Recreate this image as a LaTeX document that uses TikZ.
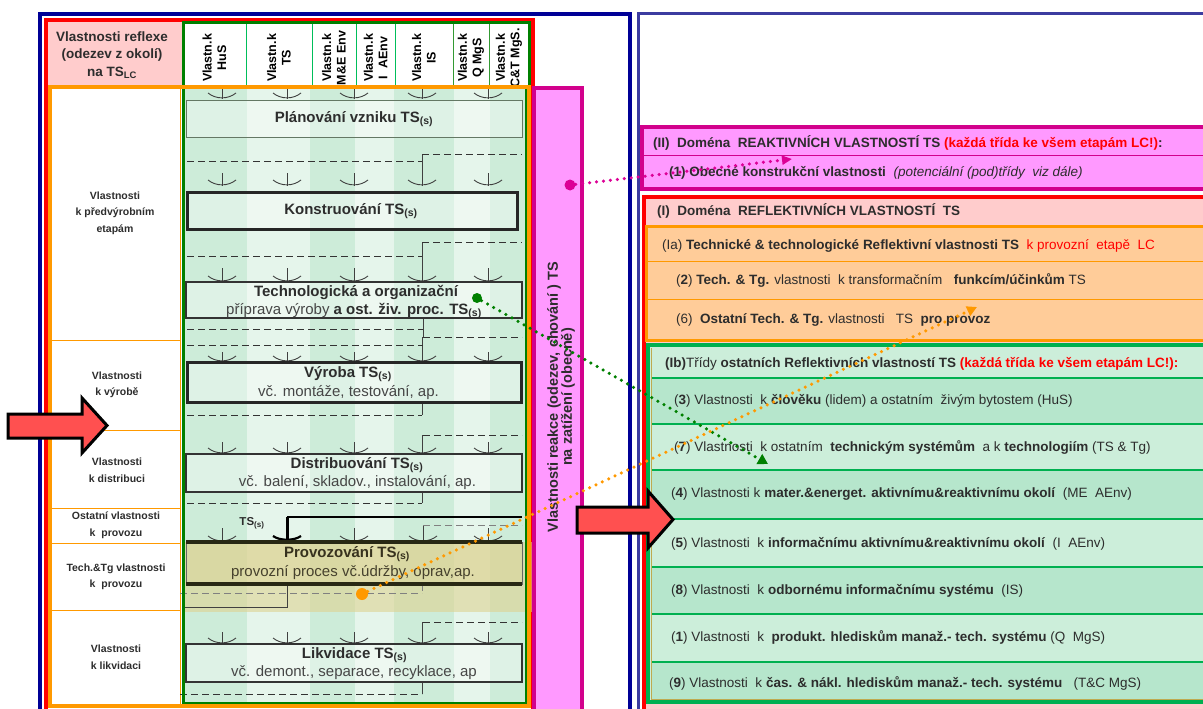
\documentclass[tikz,border=0pt]{standalone}
\usepackage{fontspec}
\setmainfont{Liberation Sans}
\usetikzlibrary{arrows.meta}
\definecolor{navyA}{RGB}{0,0,150}
\definecolor{blueB}{RGB}{60,60,160}
\definecolor{redF}{RGB}{255,0,0}
\definecolor{orangeF}{RGB}{255,153,0}
\definecolor{gdark}{RGB}{0,128,0}
\definecolor{gline}{RGB}{0,190,90}
\definecolor{stripeD}{RGB}{205,236,217}
\definecolor{stripeL}{RGB}{229,245,235}
\definecolor{tanF}{RGB}{222,210,145}
\definecolor{magB}{RGB}{210,0,140}
\definecolor{magF}{RGB}{255,153,255}
\definecolor{pinkF}{RGB}{255,204,204}
\definecolor{peachF}{RGB}{255,204,153}
\definecolor{grnP}{RGB}{0,176,80}
\definecolor{grnL}{RGB}{204,238,218}
\definecolor{grnD}{RGB}{182,230,204}
\definecolor{redArrow}{RGB}{255,80,80}
\definecolor{textG}{RGB}{45,45,45}
\definecolor{textS}{RGB}{70,70,70}
\definecolor{dotM}{RGB}{220,0,150}
\definecolor{dotO}{RGB}{255,153,0}
\definecolor{oliveL}{RGB}{190,170,80}
\definecolor{provT}{RGB}{55,50,30}
\definecolor{provS}{RGB}{70,65,45}
\definecolor{provL}{RGB}{40,40,20}
\definecolor{planB}{RGB}{100,120,100}
\newcommand\fs[2]{\fontsize{#1}{#2}\selectfont}
\newcommand\mytick[3]{\draw[tickst] (#1-14,#2-6) .. controls (#1-6,#2+0.5) and (#1+6,#2+0.5) .. (#1+14,#2-6); \draw[tickst] (#1,#3) -- (#1,#2);}
\newcommand\tickrow[3]{\foreach \xx in {222,287,354,488}{\mytick{\xx}{#1}{#2}}\mytick{422}{#1}{#3}}
\begin{document}
\begin{tikzpicture}[x=1pt,y=-1pt,
  dashA/.style={draw=black!80, line width=1pt, dash pattern=on 7pt off 4pt},
  dashB/.style={draw=black!50, line width=1pt, dash pattern=on 7pt off 4pt},
  tickst/.style={draw=black!75, line width=0.9pt},
  solidA/.style={draw=black!75, line width=0.9pt},
  gtitle/.style={font=\fs{15}{19}\bfseries, text=textG, align=center, inner sep=0pt},
  gtwo/.style={font=\fs{15}{19}, text=textS, align=center, inner sep=0pt},
  leftlab/.style={font=\fs{10.5}{16.5}\bfseries, text=textG, align=center, inner sep=0pt},
  colhead/.style={font=\fs{12.5}{14.5}\bfseries, text=black, align=center, rotate=90, inner sep=0pt},
  rtext/.style={anchor=west, font=\fs{13.5}{16}, text=textG, inner sep=0pt},
  dotted3/.style={line width=3.5pt, dash pattern=on 0pt off 7pt, line cap=round},
  bigarrow/.style={fill=redArrow, draw=black, line width=3pt, line join=miter},
  dotnode/.style={circle, inner sep=0pt, minimum size=11pt}
]
\useasboundingbox (0,0) rectangle (1203,709);
\clip (0,0) rectangle (1203,709);
\fill[white] (0,0) rectangle (1203,709);

% ---------- outer frames ----------
\draw[navyA, line width=4pt] (40,14) rectangle (630,730);
\draw[blueB, line width=3pt] (638,14) rectangle (1230,730);
\draw[redF, line width=4pt] (46,20) rectangle (533,730);

% header
\fill[pinkF] (48,22) rectangle (183,86);
\node[font=\fs{13.5}{17.5}\bfseries, text=textG, align=center, inner sep=0pt] (hdr) at (112,55) {Vlastnosti reflexe\\(odezev z okolí)\\na TS\textsubscript{LC}};
\fill[white] (183,23) rectangle (529,87);
\foreach \xl in {246,312,356,395,453,489}{\draw[gline, line width=1pt] (\xl,23) -- (\xl,87);}
\draw[gdark!80, line width=1pt] (453,23) rectangle (489,87);
\draw[gdark, line width=3pt] (183,23) rectangle (529,87);
\node[colhead] (c1) at (214.5,58) {Vlastn.k\\HuS};
\node[colhead] (c2) at (279,58) {Vlastn.k\\TS};
\node[colhead] (c3) at (334,58) {Vlastn.k\\M\&E Env};
\node[colhead] (c4) at (375.5,58) {Vlastn.k\\I\ \ AEnv};
\node[colhead] (c5) at (424,58) {Vlastn.k\\IS};
\node[colhead] (c6) at (471,58) {Vlastn.k\\Q MgS};
\node[colhead] (c7) at (509,58) {Vlastn.k\\C\&T MgS.};

% ---------- grid stripes ----------
\fill[stripeD] (183,87) rectangle (247,703);
\fill[stripeL] (247,87) rectangle (310,703);
\fill[stripeD] (310,87) rectangle (355,703);
\fill[stripeL] (355,87) rectangle (394,703);
\fill[stripeD] (394,87) rectangle (454,703);
\fill[stripeL] (454,87) rectangle (490,703);
\fill[stripeD] (490,87) rectangle (526,703);
\fill[tanF, opacity=0.6] (183,542) rectangle (535,612);

% left column cells
\fill[white] (52,88) rectangle (180,704);
\foreach \yl in {340,430,508,543,610}{\draw[orangeF, line width=1pt] (52,\yl) -- (180,\yl);}
\draw[orangeF, line width=1pt] (180,88) -- (180,704);

% ---------- ticks and dashed flows ----------
\tickrow{99}{88}{88}
\tickrow{186}{173}{154}
\tickrow{282}{268}{242}
\tickrow{362}{352}{337}
\tickrow{454}{442}{435}
\foreach \xx in {222,354,488}{\mytick{\xx}{542}{528}}
\mytick{423}{542}{525}
\tickrow{644}{632}{622}

% A: Planovani -> Konstruovani
\draw[dashA] (187,161) -- (422,161);
\draw[dashA] (422,154) -- (522,154);
% B
\draw[dashA] (187,256) -- (422,256);
\draw[dashA] (422,242) -- (522,242);
% C
\draw[solidA] (423,318) -- (423,337);
\draw[dashA] (187,329) -- (423,329);
\draw[dashA] (187,345) -- (423,345);
\draw[dashA] (423,337) -- (522,337);
% D
\draw[solidA] (422,402) -- (422,415);
\draw[dashA] (187,415) -- (422,415);
\draw[dashA] (423,435) -- (522,435);
% E
\draw[solidA] (422,492) -- (422,503);
\draw[dashA] (187,503) -- (422,503);
\draw[dashB] (423,525) -- (522,525);
\draw[black, line width=1.3pt] (287,517) -- (522,517);
\draw[black, line width=3pt] (287,517) -- (287,540);
\draw[black, line width=2.2pt] (273,536) .. controls (280,541) and (294,541) .. (301,536);
\node[font=\fs{11.5}{13}\bfseries, text=textG, inner sep=0pt] (tsl) at (252,523) {TS\textsubscript{(s)}};
% F
\draw[dashB] (422,584) -- (422,593);
\draw[dashB] (180,593) -- (422,593);
\draw[solidA] (287,584) -- (287,607) -- (182,607);
\draw[dashA] (423,622) -- (522,622);
% G
\draw[solidA] (422,682) -- (422,694);
\draw[dashA] (180,694) -- (422,694);

% ---------- process boxes ----------
\draw[draw=planB, line width=0.9pt, fill=white, fill opacity=0.35] (186,100) rectangle (522,137);
\draw[draw=black!85, line width=3pt, fill=white, fill opacity=0.35] (187,192) rectangle (517,229);
\draw[draw=black!80, line width=1.2pt, fill=white, fill opacity=0.35] (186,282) rectangle (522,318);
\draw[draw=black!80, line width=2pt] (186,318) -- (522,318);
\draw[draw=black!85, line width=3pt, fill=white, fill opacity=0.35] (187,362) rectangle (521,402);
\draw[draw=black!80, line width=1.2pt, fill=white, fill opacity=0.35] (186,454) rectangle (522,492);
\draw[draw=black!80, line width=2pt] (186,454) -- (522,454) (186,492) -- (522,492);
\draw[draw=black!60, line width=0.9pt, fill=tanF, fill opacity=0.35] (186,542) rectangle (522,584);
\draw[draw=provL, line width=4pt] (186,542) -- (522,542) (186,584) -- (522,584);
\draw[draw=black!80, line width=1.2pt, fill=white, fill opacity=0.35] (186,644) rectangle (522,682);
\draw[draw=black!80, line width=2pt] (186,644) -- (522,644) (186,682) -- (522,682);

% grid / orange frames
\draw[gdark, line width=3pt] (183,87) rectangle (526,703);
\draw[orangeF, line width=3.5pt] (50,87) rectangle (529,706);

% box texts
\node[gtitle] (t1) at (354,119) {Plánování vzniku TS\textsubscript{(s)}};
\node[gtitle] (t2) at (351,211) {Konstruování TS\textsubscript{(s)}};
\node[gtitle] (t3a) at (356,292) {Technologická a organizační};
\node[gtwo] (t3b) at (354,311) {příprava výroby \textbf{\textcolor{textG}{a ost. živ. proc. TS\textsubscript{(s)}}}};
\node[gtitle] (t4a) at (348,374) {Výroba TS\textsubscript{(s)}};
\node[gtwo] (t4b) at (348.5,393) {vč. montáže, testování, ap.};
\node[gtitle] (t5a) at (357,465) {Distribuování TS\textsubscript{(s)}};
\node[gtwo] (t5b) at (357.5,483) {vč. balení, skladov., instalování, ap.};
\node[gtitle, text=provT] (t6a) at (347,554) {Provozování TS\textsubscript{(s)}};
\node[gtwo, text=provS] (t6b) at (353,573) {provozní proces vč.údržby, oprav,ap.};
\node[gtitle] (t7a) at (354.5,655) {Likvidace TS\textsubscript{(s)}};
\node[gtwo] (t7b) at (354,673) {vč. demont., separace, recyklace, ap};

% left labels
\node[leftlab] (l1) at (115,213) {Vlastnosti\\k předvýrobním\\etapám};
\node[leftlab] (l2) at (117,385) {Vlastnosti\\k výrobě};
\node[leftlab] (l3) at (117,470) {Vlastnosti\\k distribuci};
\node[leftlab] (l4) at (116,525) {Ostatní vlastnosti\\k\ \ provozu};
\node[leftlab] (l5) at (116,577) {Tech.\&Tg vlastnosti\\k\ \ provozu};
\node[leftlab] (l6) at (116,657) {Vlastnosti\\k likvidaci};

% magenta reaction box
\draw[magB, line width=4pt, fill=magF] (534,88) rectangle (582,730);
\node[font=\fs{14.5}{14}\bfseries, text=textG, align=center, rotate=90, inner sep=0pt] (reak) at (561,397) {Vlastnosti reakce (odezev, chování ) TS\\na zatížení (obecně)};

% ---------- right panels ----------
\draw[magB, line width=3.5pt, fill=magF] (642,127) rectangle (1215,189);
\draw[magB, line width=1pt] (642,155) -- (1215,155);
\node[rtext] (p2t) at (653,143) {\textbf{(II)\ \ Doména\ \ REAKTIVNÍCH VLASTNOSTÍ TS} \textcolor{redF}{\textbf{(každá třída ke všem etapám LC!)}}\textbf{:}};
\node[rtext] (p2a) at (669,173) {\textbf{(1) Obecné konstrukční vlastnosti}\ \ \textit{(potenciální (pod)třídy\ \ viz dále)}};

\draw[redF, line width=4pt, fill=pinkF] (644,197) rectangle (1215,730);
\node[rtext] (p1t) at (657,211) {\textbf{(I)\ \ Doména\ \ REFLEKTIVNÍCH VLASTNOSTÍ\ \ TS}};

\draw[orangeF, line width=3pt, fill=peachF] (646,226) rectangle (1215,340);
\draw[orangeF, line width=1pt] (646,261) -- (1215,261) (646,299) -- (1215,299);
\node[rtext] (pat) at (662,246) {(Ia) \textbf{Technické \& technologické Reflektivní vlastnosti TS}\ \ \textcolor{redF}{k provozní\ \ etapě\ \ LC}};
\node[rtext] (pa2) at (676,281) {(\textbf{2}) \textbf{Tech. \& Tg.} vlastnosti\ \ k transformačním\ \ \ \textbf{funkcím/účinkům} TS};
\node[rtext] (pa6) at (676,320) {(6)\ \ \textbf{Ostatní Tech. \& Tg.} vlastnosti\ \ \ TS\ \ \textbf{pro provoz}};

\draw[grnP, line width=4pt, fill=grnL] (648,345) rectangle (1215,702);
\fill[grnD] (651,378) rectangle (1215,424);
\fill[grnD] (651,470) rectangle (1215,519);
\fill[grnD] (651,567) rectangle (1215,614);
\fill[grnD] (651,662) rectangle (1215,700);
\foreach \yl in {378,424,470,519,567,614,662}{\draw[grnP, line width=1.2pt] (651,\yl) -- (1215,\yl);}
\draw[oliveL, line width=0.8pt] (651,348) -- (651,699) -- (1215,699);
\node[rtext] (pbt) at (665,364) {\textbf{(Ib)}Třídy \textbf{ostatních Reflektivních vlastností TS} \textcolor{redF}{\textbf{(každá třída ke všem etapám LC!):}}};
\node[rtext] (pb3) at (674,401) {(\textbf{3}) Vlastnosti\ \ k \textbf{člověku} (lidem) a ostatním\ \ živým bytostem (HuS)};
\node[rtext] (pb7) at (674,448) {(\textbf{7}) Vlastnosti\ \ k ostatním\ \ \textbf{technickým systémům}\ \ a k \textbf{technologiím} (TS \& Tg)};
\node[rtext] (pb4) at (671,494) {(\textbf{4}) Vlastnosti\ k \textbf{mater.\&energet. aktivnímu\&reaktivnímu okolí}\ \ (ME\ \ AEnv)};
\node[rtext] (pb5) at (671,544) {(\textbf{5}) Vlastnosti\ \ k \textbf{informačnímu aktivnímu\&reaktivnímu okolí}\ \ (I\ \ AEnv)};
\node[rtext] (pb8) at (671,591) {(\textbf{8}) Vlastnosti\ \ k \textbf{odbornému informačnímu systému}\ \ (IS)};
\node[rtext] (pb1) at (671,637) {(\textbf{1}) Vlastnosti\ \ k\ \ \textbf{produkt. hlediskům manaž.- tech. systému} (Q\ \ MgS)};
\node[rtext] (pb9) at (669,683) {(\textbf{9}) Vlastnosti\ \ k \textbf{čas. \& nákl. hlediskům manaž.- tech. systému}\ \ \ (T\&C MgS)};

% ---------- dotted connectors ----------
\node[dotnode, fill=dotM] (dm) at (570,185) {};
\node[dotnode, fill=gdark, minimum size=10pt] (dg) at (477,298) {};
\node[dotnode, fill=dotO, minimum size=12pt] (do) at (362,594) {};
\coordinate (em) at (792,159);
\coordinate (eg) at (768,464);
\coordinate (eo) at (977,307);
\draw[dotted3, dotM, -{Triangle[length=10pt,width=9pt]}] (dm) -- (em);
\draw[dotted3, gdark, -{Triangle[length=10pt,width=11pt]}] (dg) -- (eg);
\draw[dotted3, dotO, -{Triangle[length=10pt,width=10pt]}] (do) -- (eo);

% ---------- big red arrows ----------
\draw[bigarrow] (8,414) -- (82,414) -- (82,398) -- (107,425.5) -- (82,453) -- (82,438) -- (8,438) -- cycle;
\draw[bigarrow] (577,507) -- (648,507) -- (648,491) -- (673,519.5) -- (648,548) -- (648,533) -- (577,533) -- cycle;
\end{tikzpicture}
\end{document}
